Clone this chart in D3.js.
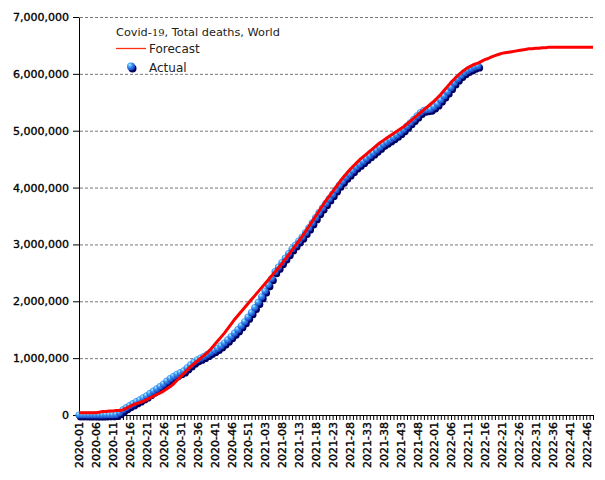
<!DOCTYPE html>
<html><head><meta charset="utf-8">
<script src="https://cdn.jsdelivr.net/npm/d3@7"></script>
<style>
html,body{margin:0;padding:0;background:#fff;}
svg{display:block;font-family:"DejaVu Sans",sans-serif;}
</style></head>
<body>
<svg id="chart" width="605" height="480"></svg>
<script>
// ISO week categories: year and number of weeks shown
const yearWeeks = [[2020, 53], [2021, 52], [2022, 48]];
const weeks = [];
yearWeeks.forEach(([y, n]) => { for (let w = 1; w <= n; w++) weeks.push(y + "-" + String(w).padStart(2, "0")); });

const yTicks = [0, 1000000, 2000000, 3000000, 4000000, 5000000, 6000000, 7000000];

// Actual cumulative deaths (millions), weekly from 2020-01
const actual = [
0.000,0.000,0.000,0.0001,0.0004,0.0009,0.0014,0.0020,0.0025,0.0030,
0.0040,0.010,0.040,0.090,0.130,0.165,0.200,0.235,0.265,0.300,
0.335,0.380,0.420,0.460,0.500,0.545,0.595,0.640,0.680,0.715,
0.745,0.775,0.830,0.880,0.930,0.970,1.000,1.030,1.065,1.100,
1.135,1.170,1.215,1.265,1.320,1.380,1.440,1.500,1.570,1.640,
1.720,1.800,1.890,1.980,2.080,2.180,2.290,2.400,2.520,2.600,
2.680,2.760,2.840,2.920,2.990,3.060,3.130,3.210,3.290,3.380,
3.470,3.560,3.640,3.720,3.800,3.880,3.960,4.040,4.110,4.180,
4.240,4.300,4.360,4.410,4.460,4.510,4.560,4.610,4.660,4.710,
4.760,4.800,4.840,4.880,4.920,4.970,5.020,5.080,5.140,5.200,
5.260,5.320,5.360,5.370,5.380,5.420,5.470,5.540,5.610,5.680,
5.760,5.840,5.910,5.970,6.020,6.060,6.090,6.120,6.140
];

// Forecast cumulative deaths (millions), weekly from 2020-01
const forecast = [
0.040,0.040,0.040,0.040,0.040,0.040,0.050,0.060,0.060,0.070,
0.070,0.080,0.080,0.090,0.120,0.150,0.180,0.200,0.220,0.240,
0.270,0.300,0.330,0.360,0.390,0.420,0.460,0.500,0.550,0.610,
0.670,0.730,0.790,0.850,0.900,0.950,1.000,1.050,1.100,1.160,
1.230,1.300,1.370,1.440,1.520,1.600,1.680,1.750,1.820,1.890,
1.960,2.030,2.100,2.170,2.240,2.310,2.380,2.450,2.520,2.590,
2.660,2.740,2.820,2.900,2.980,3.060,3.140,3.230,3.320,3.410,
3.500,3.590,3.680,3.770,3.850,3.930,4.010,4.090,4.170,4.240,
4.310,4.370,4.430,4.490,4.540,4.590,4.640,4.690,4.740,4.790,
4.830,4.870,4.910,4.950,4.990,5.030,5.070,5.120,5.170,5.220,
5.270,5.320,5.370,5.420,5.470,5.520,5.580,5.640,5.710,5.780,
5.850,5.910,5.970,6.020,6.070,6.110,6.140,6.170,6.190,6.220,
6.250,6.270,6.300,6.320,6.340,6.360,6.370,6.380,6.390,6.400,
6.410,6.420,6.430,6.440,6.440,6.450,6.450,6.460,6.460,6.470,
6.470,6.470,6.470,6.470,6.470,6.470,6.470,6.470,6.470,6.470,
6.470,6.470,6.470
];

const svg = d3.select("#chart");
const L = 79, R = 593, T = 17, B = 415;

const x = d3.scalePoint().domain(weeks).range([L, R]);
const y = d3.scaleLinear().domain([0, 7000000]).range([B, T]);

// gradient for spheres
const defs = svg.append("defs");
const g = defs.append("radialGradient").attr("id", "ball").attr("cx", "35%").attr("cy", "30%").attr("r", "70%");
g.append("stop").attr("offset", "0%").attr("stop-color", "#c0f0ff");
g.append("stop").attr("offset", "35%").attr("stop-color", "#3fa0f8");
g.append("stop").attr("offset", "100%").attr("stop-color", "#1840c0");

// gridlines
svg.append("g").selectAll("line").data(yTicks.filter(d => d > 0)).join("line")
  .attr("x1", L + 1).attr("x2", R).attr("y1", d => y(d) + 0.5).attr("y2", d => y(d) + 0.5)
  .attr("stroke", "#777").attr("stroke-width", 1).attr("stroke-dasharray", "3,2");

// axes
const yAxis = svg.append("g").attr("transform", `translate(${L},0)`)
  .call(d3.axisLeft(y).tickValues(yTicks).tickSize(6).tickPadding(4).tickSizeOuter(0).tickFormat(d3.format(",")));
const xAxis = svg.append("g").attr("transform", `translate(0,${B})`)
  .call(d3.axisBottom(x).tickValues(weeks).tickSize(5).tickSizeOuter(0)
    .tickFormat((d, i) => i % 5 === 0 ? d : ""));
xAxis.selectAll("text").attr("transform", "rotate(-90)").attr("text-anchor", "end")
  .attr("x", -7).attr("y", 0).attr("dy", "0.35em");
[xAxis, yAxis].forEach(a => {
  a.selectAll("text").attr("font-family", "DejaVu Sans").attr("font-size", 11).attr("fill", "#000")
    .attr("stroke", "#000").attr("stroke-width", 0.35);
  a.selectAll("line,path").attr("stroke", "#000");
});

// actual points: shadow then ball
const pts = actual.map((v, i) => [weeks[i], v * 1e6]);
svg.append("g").selectAll("circle").data(pts).join("circle")
  .attr("cx", d => x(d[0]) + 1.5).attr("cy", d => y(d[1]) + 2).attr("r", 3.6).attr("fill", "#000060");
svg.append("g").selectAll("circle").data(pts).join("circle")
  .attr("cx", d => x(d[0])).attr("cy", d => y(d[1])).attr("r", 3.6).attr("fill", "url(#ball)");

// forecast line
const line = d3.line().x(d => x(d[0])).y(d => y(d[1]));
svg.append("path").datum(forecast.map((v, i) => [weeks[i], v * 1e6]))
  .attr("d", line).attr("fill", "none").attr("stroke", "#ff0000").attr("stroke-width", 3)
  .attr("stroke-linejoin", "round");

// legend
const lg = svg.append("g").attr("font-family", "DejaVu Sans").attr("fill", "#222");
const t = lg.append("text").attr("x", 116).attr("y", 36).attr("font-size", 11.3);
t.append("tspan").text("Covid-");
t.append("tspan").attr("font-family", "DejaVu Serif").attr("font-size", 10).text("19");
t.append("tspan").text(", Total deaths, World");
lg.append("line").attr("x1", 116).attr("x2", 146).attr("y1", 48.5).attr("y2", 48.5)
  .attr("stroke", "#ff3010").attr("stroke-width", 1.3);
lg.append("text").attr("x", 149).attr("y", 53).attr("font-size", 12).text("Forecast");
lg.append("circle").attr("cx", 132.5).attr("cy", 68.5).attr("r", 4).attr("fill", "#000060");
lg.append("circle").attr("cx", 131).attr("cy", 66.5).attr("r", 4).attr("fill", "url(#ball)");
lg.append("text").attr("x", 149).attr("y", 71.5).attr("font-size", 12).text("Actual");
</script>
</body></html>
